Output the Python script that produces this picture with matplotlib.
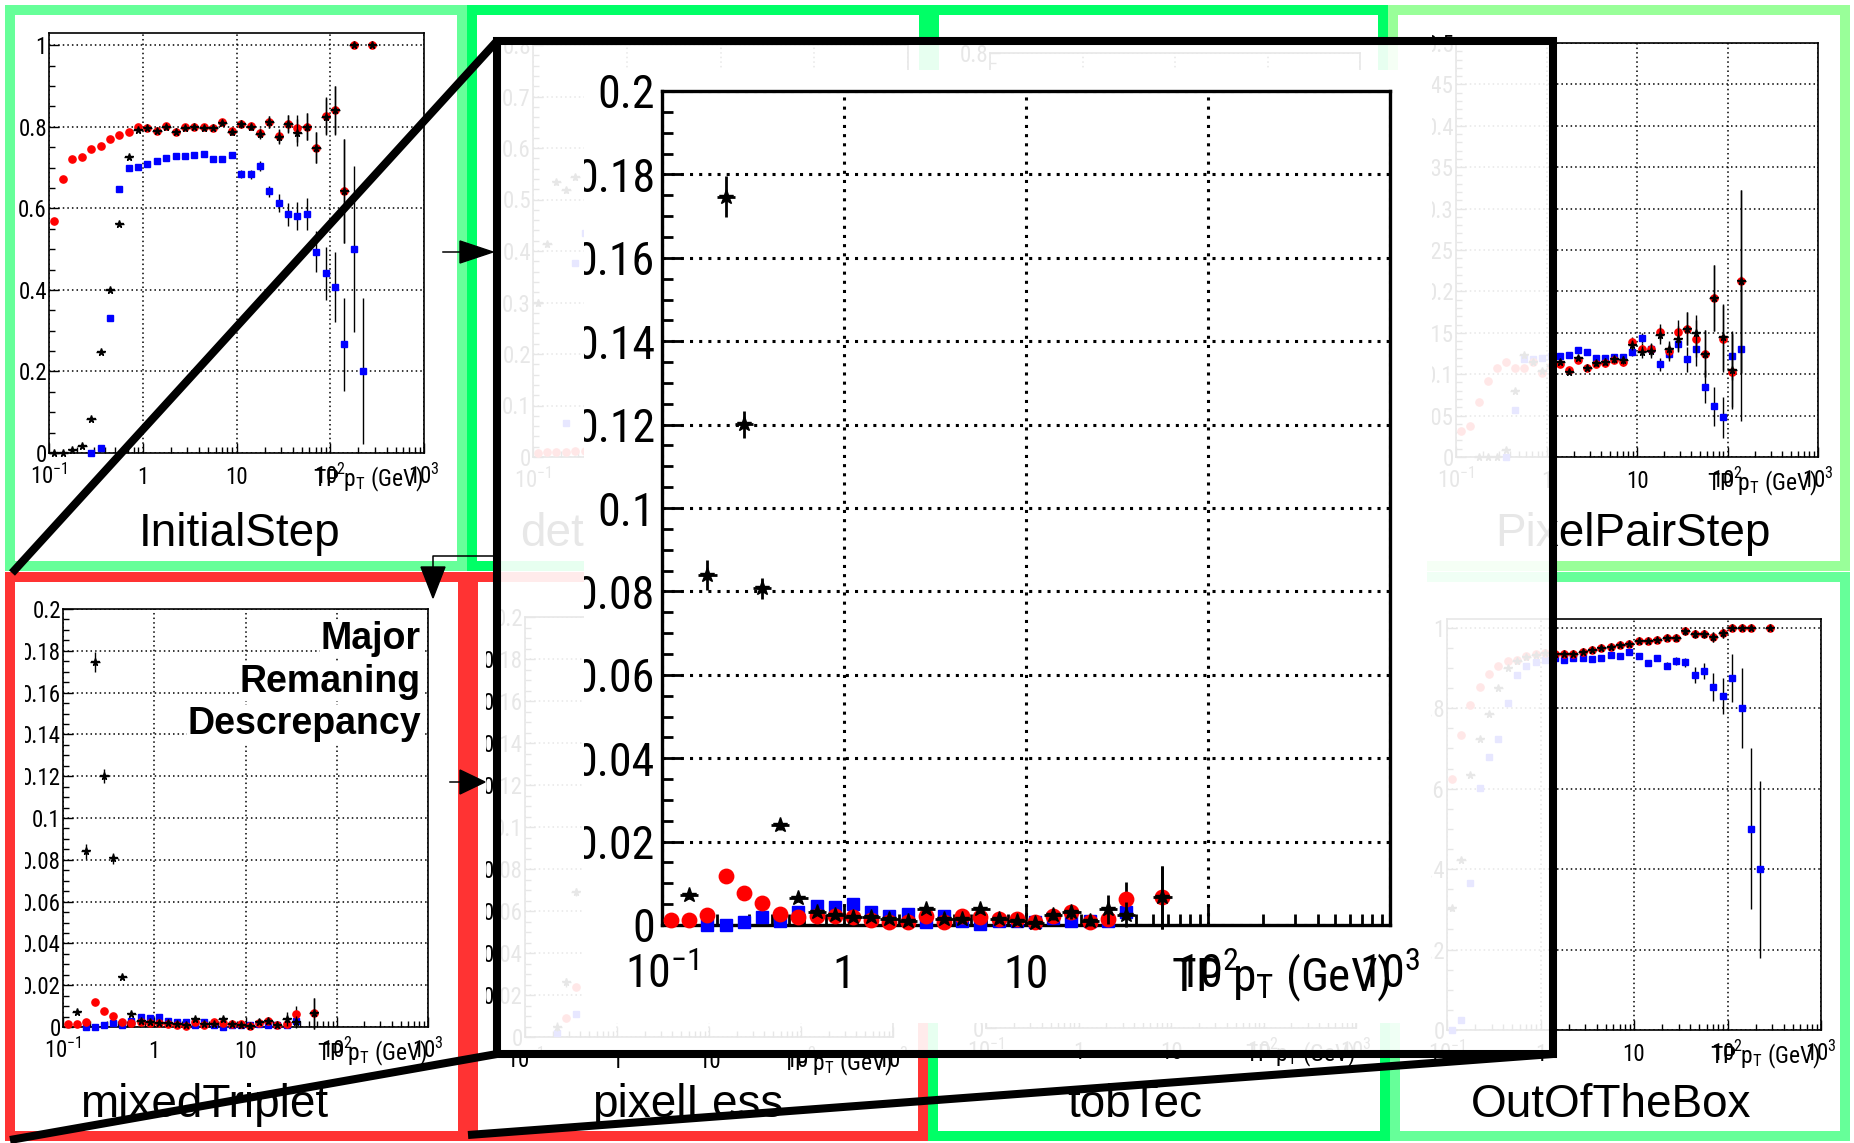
import numpy as np
import matplotlib
matplotlib.use('Agg')
import matplotlib.pyplot as plt
from matplotlib import font_manager
from matplotlib.patches import Rectangle, Polygon
from matplotlib.transforms import Bbox, TransformedBbox
from matplotlib.ticker import NullFormatter

nan = np.nan

# ---------------------------------------------------------------- data
PT_BINS = [0.1122, 0.1413, 0.1778, 0.2239, 0.2818, 0.3548, 0.4467, 0.5623, 0.7079, 0.8913,
           1.122, 1.413, 1.778, 2.239, 2.818, 3.548, 4.467, 5.623, 7.079, 8.913,
           11.22, 14.13, 17.78, 22.39, 28.18, 35.48, 44.67, 56.23, 70.79, 89.13,
           112.2, 141.3, 177.8, 223.9, 281.8]

# InitialStep
INIT_RED = [0.570, 0.671, 0.722, 0.725, 0.745, 0.753, 0.771, 0.780, 0.788, 0.800,
            0.798, 0.789, 0.802, 0.787, 0.800, 0.800, 0.800, 0.798, 0.811, 0.789,
            0.808, 0.802, 0.784, 0.812, 0.777, 0.808, 0.796, 0.800, 0.749, 0.827,
            0.841, 0.643, 1.0, nan, 1.0]
INIT_RED_ERR = [0.004, 0.003, 0.003, 0.003, 0.003, 0.003, 0.003, 0.003, 0.003, 0.003,
                0.003, 0.003, 0.003, 0.004, 0.004, 0.004, 0.005, 0.005, 0.006, 0.007,
                0.008, 0.009, 0.012, 0.015, 0.017, 0.022, 0.033, 0.033, 0.037, 0.045,
                0.059, 0.128, 0.0, nan, 0.0]
INIT_BLACK = [0.0, 0.0, 0.008, 0.016, 0.083, 0.247, 0.400, 0.562, 0.725, 0.792,
              0.797, 0.789, 0.800, 0.787, 0.798, 0.800, 0.797, 0.798, 0.810, 0.788,
              0.806, 0.800, 0.782, 0.811, 0.776, 0.806, 0.785, 0.800, 0.749, 0.825,
              0.840, 0.643, 1.0, nan, 1.0]
INIT_BLACK_ERR = [0.001, 0.001, 0.002, 0.003, 0.004, 0.005, 0.005, 0.005, 0.004, 0.003,
                  0.003, 0.003, 0.003, 0.004, 0.004, 0.004, 0.005, 0.005, 0.006, 0.007,
                  0.008, 0.009, 0.012, 0.015, 0.017, 0.022, 0.033, 0.033, 0.037, 0.045,
                  0.059, 0.128, 0.0, nan, 0.0]
INIT_BLUE = [nan, nan, nan, nan, 0.0, 0.012, 0.331, 0.647, 0.698, 0.702,
             0.708, 0.716, 0.724, 0.729, 0.728, 0.731, 0.734, 0.722, 0.722, 0.731,
             0.684, 0.684, 0.704, 0.642, 0.614, 0.585, 0.581, 0.586, 0.494, 0.441,
             0.407, 0.267, 0.500, 0.200, nan]
INIT_BLUE_ERR = [nan, nan, nan, nan, 0.002, 0.003, 0.005, 0.005, 0.004, 0.004,
                 0.004, 0.004, 0.004, 0.004, 0.004, 0.005, 0.005, 0.006, 0.007, 0.008,
                 0.010, 0.011, 0.012, 0.014, 0.022, 0.028, 0.035, 0.040, 0.050, 0.065,
                 0.086, 0.114, 0.204, 0.179, nan]

# detachedTriplet (mostly hidden)
DET_RED = [0.008, 0.009, 0.010, 0.010, 0.012, 0.012] + [nan] * 29
DET_RED_ERR = [0.004] * 6 + [nan] * 29
DET_BLACK = [0.300, 0.414, 0.534, 0.518, 0.544, nan] + [nan] * 29
DET_BLACK_ERR = [0.006] * 6 + [nan] * 29
DET_BLUE = [nan, nan, nan, 0.066, 0.377, 0.435] + [nan] * 29
DET_BLUE_ERR = [0.005] * 6 + [nan] * 29

# PixelPairStep
PP_RED = [0.031, 0.038, 0.067, 0.092, 0.107, 0.115, 0.108, 0.108, 0.115, 0.101,
          0.110, 0.112, 0.105, 0.117, 0.108, 0.112, 0.113, 0.117, 0.115, 0.139,
          0.131, 0.130, 0.151, 0.128, 0.151, 0.155, 0.143, 0.125, 0.192, 0.143,
          0.103, 0.212, nan, nan, nan]
PP_RED_ERR = [0.002, 0.002, 0.002, 0.002, 0.002, 0.002, 0.002, 0.002, 0.002, 0.002,
              0.002, 0.003, 0.003, 0.003, 0.003, 0.003, 0.004, 0.004, 0.005, 0.006,
              0.007, 0.008, 0.010, 0.010, 0.015, 0.020, 0.022, 0.028, 0.040, 0.040,
              0.045, 0.110, nan, nan, nan]
PP_BLACK = [nan, nan, 0.0, 0.0, 0.0, 0.009, 0.080, 0.123, 0.115, 0.104,
            0.110, 0.115, 0.103, 0.120, 0.108, 0.113, 0.115, 0.118, 0.117, 0.135,
            0.127, 0.128, 0.147, 0.130, 0.143, 0.155, 0.150, 0.125, 0.192, 0.145,
            0.105, 0.212, nan, nan, nan]
PP_BLACK_ERR = [nan, nan, 0.001, 0.001, 0.001, 0.002, 0.003, 0.003, 0.003, 0.003,
                0.003, 0.003, 0.003, 0.003, 0.003, 0.003, 0.004, 0.004, 0.005, 0.006,
                0.007, 0.008, 0.010, 0.010, 0.015, 0.020, 0.022, 0.028, 0.040, 0.040,
                0.045, 0.110, nan, nan, nan]
PP_BLUE = [nan, nan, nan, nan, nan, 0.0, 0.057, 0.118, 0.118, 0.120,
           0.122, 0.1225, 0.123, 0.129, 0.127, 0.119, 0.119, 0.121, 0.121, 0.127,
           0.144, 0.130, 0.112, 0.125, 0.137, 0.118, 0.130, 0.085, 0.061, 0.048,
           0.1225, 0.131, nan, nan, nan]
PP_BLUE_ERR = [nan, nan, nan, nan, nan, 0.002, 0.003, 0.003, 0.003, 0.003,
               0.003, 0.003, 0.003, 0.003, 0.003, 0.003, 0.003, 0.004, 0.004, 0.005,
               0.006, 0.007, 0.008, 0.009, 0.010, 0.015, 0.020, 0.020, 0.024, 0.025,
               0.030, 0.087, nan, nan, nan]

# mixedTriplet (also the zoomed view)
MIX_RED = [0.0013, 0.0013, 0.0024, 0.0118, 0.0077, 0.0052, 0.0026, 0.0018, 0.0022, 0.0021,
           0.0018, 0.0013, 0.0008, 0.0006, 0.0022, 0.0008, 0.0022, 0.0018, 0.0014, 0.0014,
           0.0006, 0.0021, 0.0030, 0.0008, 0.0014, 0.0062, nan, 0.0066, nan, nan,
           nan, nan, nan, nan, nan]
MIX_RED_ERR = [0.0004, 0.0004, 0.0005, 0.0008, 0.0007, 0.0006, 0.0005, 0.0004, 0.0004, 0.0004,
               0.0004, 0.0004, 0.0003, 0.0003, 0.0005, 0.0003, 0.0005, 0.0005, 0.0005, 0.0005,
               0.0004, 0.0008, 0.0012, 0.0008, 0.0012, 0.0040, nan, 0.0075, nan, nan,
               nan, nan, nan, nan, nan]
MIX_BLACK = [nan, 0.0072, 0.0840, 0.1746, 0.1201, 0.0807, 0.0240, 0.0064, 0.0030, 0.0025,
             0.0020, 0.0020, 0.0015, 0.0010, 0.0038, 0.0015, 0.0015, 0.0038, 0.0015, 0.0010,
             0.0005, 0.0025, 0.0030, 0.0010, 0.0038, 0.0025, nan, 0.0066, nan, nan,
             nan, nan, nan, nan, nan]
MIX_BLACK_ERR = [nan, 0.0010, 0.0036, 0.0049, 0.0032, 0.0026, 0.0012, 0.0008, 0.0006, 0.0005,
                 0.0005, 0.0005, 0.0005, 0.0005, 0.0008, 0.0005, 0.0006, 0.0009, 0.0008, 0.0008,
                 0.0008, 0.0012, 0.0015, 0.0012, 0.0035, 0.0030, nan, 0.0075, nan, nan,
                 nan, nan, nan, nan, nan]
MIX_BLUE = [nan, nan, 0.0, 0.0, 0.0008, 0.0018, 0.0010, 0.0030, 0.0046, 0.0042,
            0.0050, 0.0030, 0.0022, 0.0026, 0.0008, 0.0022, 0.0010, 0.0002, 0.0010, 0.0010,
            0.0008, 0.0016, 0.0010, 0.0010, 0.0010, 0.0030, nan, nan, nan, nan,
            nan, nan, nan, nan, nan]
MIX_BLUE_ERR = [nan, nan, 0.0003, 0.0003, 0.0004, 0.0005, 0.0004, 0.0006, 0.0007, 0.0007,
                0.0007, 0.0006, 0.0005, 0.0005, 0.0004, 0.0005, 0.0004, 0.0003, 0.0004, 0.0004,
                0.0004, 0.0006, 0.0006, 0.0006, 0.0008, 0.0015, nan, nan, nan, nan,
                nan, nan, nan, nan, nan]

# pixelLess (mostly hidden)
PL_RED = [nan, nan, nan, nan, 0.009, 0.024] + [nan] * 29
PL_RED_ERR = [0.001] * 6 + [nan] * 29
PL_BLACK = [nan, nan, nan, 0.005, 0.026, 0.069] + [nan] * 29
PL_BLACK_ERR = [0.002] * 6 + [nan] * 29
PL_BLUE = [nan, nan, nan, 0.002, nan, 0.011] + [nan] * 29
PL_BLUE_ERR = [0.001] * 6 + [nan] * 29

# OutOfTheBox
OOB_RED = [0.624, 0.734, 0.809, 0.854, 0.885, 0.905, 0.917, 0.921, 0.930, 0.935,
           0.938, 0.935, 0.935, 0.935, 0.941, 0.944, 0.949, 0.953, 0.958, 0.960,
           0.967, 0.968, 0.970, 0.974, 0.974, 0.991, 0.985, 0.985, 0.977, 0.986,
           1.0, 1.0, 1.0, nan, 1.0]
OOB_RED_ERR = [0.004, 0.004, 0.003, 0.003, 0.002, 0.002, 0.002, 0.002, 0.002, 0.002,
               0.002, 0.002, 0.002, 0.002, 0.002, 0.002, 0.002, 0.002, 0.003, 0.003,
               0.003, 0.004, 0.004, 0.005, 0.006, 0.008, 0.010, 0.010, 0.013, 0.012,
               0.0, 0.0, 0.0, nan, 0.0]
OOB_BLACK = [0.303, 0.423, 0.634, 0.724, 0.786, 0.851, 0.900, 0.917, 0.928, 0.933,
             0.937, 0.935, 0.935, 0.935, 0.941, 0.944, 0.949, 0.953, 0.958, 0.960,
             0.967, 0.968, 0.970, 0.974, 0.974, 0.991, 0.985, 0.985, 0.977, 0.986,
             1.0, 1.0, 1.0, nan, 1.0]
OOB_BLACK_ERR = [0.006, 0.006, 0.005, 0.004, 0.004, 0.003, 0.003, 0.002, 0.002, 0.002,
                 0.002, 0.002, 0.002, 0.002, 0.002, 0.002, 0.002, 0.002, 0.003, 0.003,
                 0.003, 0.004, 0.004, 0.005, 0.006, 0.008, 0.010, 0.010, 0.013, 0.012,
                 0.0, 0.0, 0.0, nan, 0.0]
OOB_BLUE = [0.0, 0.025, 0.366, 0.602, 0.679, 0.724, 0.813, 0.883, 0.905, 0.916,
            0.921, 0.925, 0.921, 0.926, 0.926, 0.923, 0.926, 0.933, 0.929, 0.940,
            0.929, 0.913, 0.924, 0.906, 0.917, 0.914, 0.883, 0.893, 0.853, 0.831,
            0.875, 0.800, 0.500, 0.400, nan]
OOB_BLUE_ERR = [0.002, 0.003, 0.005, 0.005, 0.004, 0.004, 0.004, 0.003, 0.003, 0.003,
                0.003, 0.003, 0.003, 0.003, 0.003, 0.003, 0.003, 0.003, 0.004, 0.004,
                0.005, 0.006, 0.007, 0.008, 0.010, 0.012, 0.020, 0.020, 0.035, 0.045,
                0.060, 0.100, 0.200, 0.220, nan]

X_TICKS = [0.1, 1, 10, 100, 1000]
X_TICK_LABELS = [r'$10^{-1}$', '1', '10', r'$10^{2}$', r'$10^{3}$']
X_LABEL = 'TP $p_{T}$ (GeV)'
NOTE_LINES = ['Major', 'Remaning', 'Descrepancy']

# ---------------------------------------------------------------- style
W, H, DPI = 1854, 1143, 100
_names = {f.name for f in font_manager.fontManager.ttflist}
ROOT_FONT = 'Roboto Condensed' if 'Roboto Condensed' in _names else 'Liberation Sans'
ROOT_K = 1.0 if ROOT_FONT == 'Roboto Condensed' else 0.86
TITLE_FONT = 'Liberation Sans'

plt.rcParams['font.family'] = [TITLE_FONT, 'DejaVu Sans']
plt.rcParams['mathtext.fontset'] = 'custom'
plt.rcParams['mathtext.rm'] = ROOT_FONT
plt.rcParams['mathtext.it'] = ROOT_FONT
plt.rcParams['mathtext.bf'] = ROOT_FONT + ':bold'

fig = plt.figure(figsize=(W / DPI, H / DPI), dpi=DPI)
fig.patch.set_facecolor('white')


def px_axes(z):
    a = fig.add_axes([0, 0, 1, 1])
    a.set_xlim(0, W)
    a.set_ylim(H, 0)
    a.axis('off')
    a.set_zorder(z)
    a.patch.set_visible(False)
    return a


XMINOR = [m * d for d in (0.1, 1, 10, 100) for m in range(2, 10)]
HALF = 10 ** 0.05


def make_panel(box, ylim, ystep, yminor, clip_x0, s=1.0, z=1, ypad=1.5):
    x0, y0, x1, y1 = box
    ax = fig.add_axes([x0 / W, 1 - y1 / H, (x1 - x0) / W, (y1 - y0) / H])
    ax.set_zorder(z)
    ax.patch.set_visible(False)
    ax.set_xscale('log')
    ax.set_xlim(0.1, 1000)
    ax.set_ylim(*ylim)
    ax.set_xticks(X_TICKS, labels=X_TICK_LABELS)
    ax.set_xticks(XMINOR, minor=True)
    ax.xaxis.set_minor_formatter(NullFormatter())
    yt = np.round(np.arange(0, ylim[1] + 1e-9, ystep), 4)
    ax.set_yticks(yt, labels=[f'{v:g}' for v in yt])
    ax.set_yticks(np.round(np.arange(0, ylim[1] + 1e-9, yminor), 5), minor=True)
    ax.yaxis.set_minor_formatter(NullFormatter())
    fs = 16.5 * s * ROOT_K
    ax.tick_params(which='both', direction='in', top=False, right=False,
                   color='black', width=1.0 * s)
    ax.tick_params(which='major', length=7.5 * s)
    ax.tick_params(which='minor', length=4 * s)
    ax.tick_params(axis='x', which='major', pad=22.5 * s, labelsize=fs,
                   labelfontfamily=ROOT_FONT)
    ax.tick_params(axis='y', which='major', pad=ypad * s, labelsize=fs,
                   labelfontfamily=ROOT_FONT)
    for lab in ax.get_xticklabels():
        lab.set_verticalalignment('baseline')
    cb = TransformedBbox(Bbox.from_extents(clip_x0 / W, 0, 1, 1), fig.transFigure)
    for lab in ax.get_yticklabels():
        lab.set_clip_on(True)
        lab.set_clip_box(cb)
    ax.grid(True, which='major', color='black', linestyle=(0, (1, 2)),
            linewidth=1.1 * s)
    ax.set_axisbelow(True)
    for sp in ax.spines.values():
        sp.set_linewidth(1.2 * s)
    ax.annotate(X_LABEL, xy=(1, 0), xycoords='axes fraction',
                xytext=(0, -24 * s), textcoords='offset points',
                ha='right', va='baseline', fontsize=fs * 1.03, family=ROOT_FONT,
                annotation_clip=False)
    return ax


def plot_series(ax, blue, blue_e, red, red_e, black, black_e, s=1.0):
    x = np.array(PT_BINS)
    xerr = [x - x / HALF, x * HALF - x]
    conts = [
        ax.errorbar(x, blue, yerr=blue_e, fmt='s', ms=4.6 * s, color='#0000ff',
                    mec='#0000ff', ecolor='black', elinewidth=1.0 * s, capsize=0,
                    zorder=3),
        ax.errorbar(x, red, yerr=red_e, fmt='o', ms=5.2 * s, color='#ff0000',
                    mec='#ff0000', ecolor='black', elinewidth=1.0 * s, capsize=0,
                    zorder=4),
        ax.errorbar(x, black, yerr=black_e, xerr=xerr, fmt='*', ms=5.6 * s,
                    color='black', ecolor='black', elinewidth=1.0 * s, capsize=0,
                    zorder=5),
    ]
    for c in conts:
        for art in c.get_children():
            art.set_clip_on(False)


# ---------------------------------------------------------------- panel frames
bg = px_axes(0)
GREEN_A, GREEN_B, GREEN_C, RED = '#66ff99', '#00ff66', '#99ff99', '#ff3333'
FRAMES = [((5, 5, 467, 571), GREEN_A), ((467, 5, 929, 571), GREEN_B),
          ((929, 5, 1388, 571), GREEN_B), ((1388, 5, 1850, 571), GREEN_C),
          ((5, 572, 468, 1141), RED), ((468, 572, 928, 1141), RED),
          ((928, 572, 1390, 1141), GREEN_B), ((1390, 572, 1850, 1141), GREEN_A)]
for (x0, y0, x1, y1), col in FRAMES:
    bg.add_patch(Rectangle((x0, y0), x1 - x0, y1 - y0, facecolor=col, edgecolor='none'))
    bg.add_patch(Rectangle((x0 + 10, y0 + 10), x1 - x0 - 20, y1 - y0 - 20,
                           facecolor='white', edgecolor='none'))

TITLES = [('InitialStep', 240, 546), ('detachedTriplet', 677, 546),
          ('lowPtTriplet', 1158, 546), ('PixelPairStep', 1633, 546),
          ('mixedTriplet', 204, 1117), ('pixelLess', 688, 1117),
          ('tobTec', 1135, 1117), ('OutOfTheBox', 1611, 1117)]
for name, cx, by in TITLES:
    bg.text(cx, by, name, ha='center', va='baseline', fontsize=33, family=TITLE_FONT)

# ---------------------------------------------------------------- panels
ax1 = make_panel((49, 33, 424, 453), (0, 1.03), 0.2, 0.05, 15)
plot_series(ax1, INIT_BLUE, INIT_BLUE_ERR, INIT_RED, INIT_RED_ERR, INIT_BLACK, INIT_BLACK_ERR)

ax2 = make_panel((533, 45, 908, 457), (0, 0.8), 0.1, 0.02, 477)
plot_series(ax2, DET_BLUE, DET_BLUE_ERR, DET_RED, DET_RED_ERR, DET_BLACK, DET_BLACK_ERR)

ax3 = make_panel((990, 53, 1360, 457), (0, 0.8), 0.1, 0.02, 939)

ax4 = make_panel((1456, 43, 1818, 457), (0, 0.5), 0.05, 0.01, 1432)
plot_series(ax4, PP_BLUE, PP_BLUE_ERR, PP_RED, PP_RED_ERR, PP_BLACK, PP_BLACK_ERR)

ax5 = make_panel((63, 609, 428, 1027), (0, 0.2), 0.02, 0.005, 25)
plot_series(ax5, MIX_BLUE, MIX_BLUE_ERR, MIX_RED, MIX_RED_ERR, MIX_BLACK, MIX_BLACK_ERR)

ax6 = make_panel((525, 617, 893, 1037), (0, 0.2), 0.02, 0.005, 486)
plot_series(ax6, PL_BLUE, PL_BLUE_ERR, PL_RED, PL_RED_ERR, PL_BLACK, PL_BLACK_ERR)

ax7 = make_panel((986, 610, 1356, 1028), (0, 0.2), 0.02, 0.005, 938)

ax8 = make_panel((1447, 619, 1821, 1030), (0, 1.022), 0.2, 0.05, 1431)
plot_series(ax8, OOB_BLUE, OOB_BLUE_ERR, OOB_RED, OOB_RED_ERR, OOB_BLACK, OOB_BLACK_ERR)

# note on mixedTriplet
mid = px_axes(2)
for txt, by in zip(NOTE_LINES, [649, 692, 734]):
    mid.text(421, by, txt, ha='right', va='baseline', fontsize=27, fontweight='bold',
             family=TITLE_FONT,
             bbox=dict(facecolor='white', edgecolor='none', pad=0.5))

# ---------------------------------------------------------------- zoom overlay
ov = px_axes(4)
ov.add_patch(Rectangle((497, 41), 1553 - 497, 1054 - 41, facecolor='white',
                       alpha=0.91, edgecolor='none'))
ov.add_patch(Rectangle((584, 70), 1427 - 584, 1023 - 70, facecolor='white',
                       edgecolor='none'))

axz = make_panel((662, 91, 1390, 925), (0, 0.2), 0.02, 0.005, 584, s=2.0, z=5, ypad=2.5)
plot_series(axz, MIX_BLUE, MIX_BLUE_ERR, MIX_RED, MIX_RED_ERR, MIX_BLACK, MIX_BLACK_ERR, s=2.0)

top = px_axes(6)
top.add_patch(Rectangle((497, 41), 1553 - 497, 1054 - 41, fill=False,
                        edgecolor='black', lw=5.8, joinstyle='miter'))
for xa, ya, xb, yb in [(12, 573, 497, 41), (10, 1140, 497, 1054), (468, 1135, 1553, 1054)]:
    top.plot([xa, xb], [ya, yb], color='black', lw=5.8, solid_capstyle='butt')

# small arrows between panels
top.plot([443, 460], [252, 252], color='black', lw=1.1)
top.add_patch(Polygon([[460, 241], [493, 252], [460, 263]], closed=True, color='black'))
top.plot([450, 460], [782, 782], color='black', lw=1.1)
top.add_patch(Polygon([[460, 770], [485, 782], [460, 794]], closed=True, color='black'))
top.plot([497, 433, 433], [556, 556, 567], color='black', lw=1.1)
top.add_patch(Polygon([[421, 567], [445, 567], [433, 598]], closed=True, color='black'))

fig.savefig('out.png', dpi=DPI)
